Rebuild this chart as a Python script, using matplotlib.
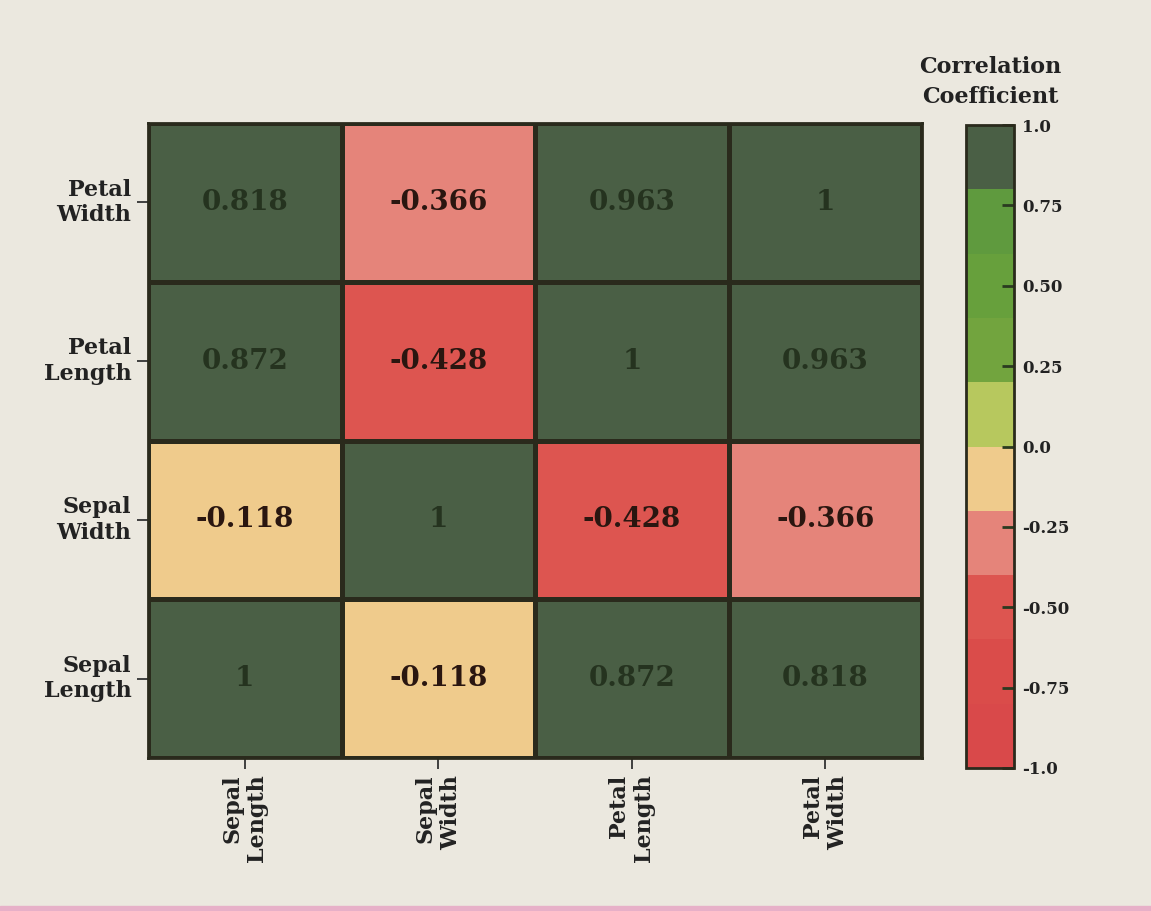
import numpy as np
import matplotlib
matplotlib.use("Agg")
import matplotlib.pyplot as plt
from matplotlib.colors import ListedColormap, BoundaryNorm
from matplotlib.patches import Rectangle

# ---- data ----
x_labels = ["Sepal\nLength", "Sepal\nWidth", "Petal\nLength", "Petal\nWidth"]
y_labels = ["Sepal\nLength", "Sepal\nWidth", "Petal\nLength", "Petal\nWidth"]  # bottom -> top
corr = np.array([
    [1.0,    -0.118, 0.872, 0.818],   # Sepal Length
    [-0.118,  1.0,  -0.428, -0.366],  # Sepal Width
    [0.872, -0.428,  1.0,   0.963],   # Petal Length
    [0.818, -0.366,  0.963, 1.0],     # Petal Width
])
cell_text = [
    ["1", "-0.118", "0.872", "0.818"],
    ["-0.118", "1", "-0.428", "-0.366"],
    ["0.872", "-0.428", "1", "0.963"],
    ["0.818", "-0.366", "0.963", "1"],
]
cbar_ticks = [1.0, 0.75, 0.50, 0.25, 0.0, -0.25, -0.50, -0.75, -1.0]
cbar_ticklabels = ["1.0", "0.75", "0.50", "0.25", "0.0", "-0.25", "-0.50", "-0.75", "-1.0"]
bounds = [-1.0, -0.8, -0.6, -0.4, -0.2, 0.0, 0.2, 0.4, 0.6, 0.8, 1.0]
bin_colors = ["#d9494a", "#da4c4a", "#dd5550", "#e5847a", "#efcb8c",
              "#b7c85e", "#72a43e", "#67a03c", "#5f9a3e", "#4a5f45"]

# ---- style ----
bg = "#ebe8df"
plt.rcParams['font.family'] = ['DejaVu Serif']
plt.rcParams['font.weight'] = 'bold'

fig = plt.figure(figsize=(11.51, 9.11), dpi=100, facecolor=bg)
cmap = ListedColormap(bin_colors)
norm = BoundaryNorm(bounds, cmap.N)

ax = fig.add_axes([148/1151, 1-758/911, 774/1151, 635/911])
mesh = ax.pcolormesh(np.arange(5), np.arange(5), corr, cmap=cmap, norm=norm,
                     edgecolors="#2a2a1c", linewidth=2.4)
ax.set_xlim(0, 4)
ax.set_ylim(0, 4)
for s in ax.spines.values():
    s.set_linewidth(2)
    s.set_color("#2a2a1c")

ax.set_xticks(np.arange(4) + 0.5)
ax.set_yticks(np.arange(4) + 0.5)
ax.set_xticklabels(x_labels, rotation=90, ha='center', va='top',
                   multialignment='right', fontsize=16, fontweight='bold', color="#222")
ax.set_yticklabels(y_labels, ha='right', va='center', multialignment='right',
                   fontsize=16, fontweight='bold', color="#222")
ax.tick_params(length=8, width=1.3, color="#333", pad=4)

for i in range(4):
    for j in range(4):
        v = corr[i, j]
        col = "#25331f" if v > 0.5 else "#2a1610"
        ax.text(j + 0.5, i + 0.5, cell_text[i][j], ha='center', va='center',
                fontsize=20, fontweight='bold', color=col)

# colorbar
cax = fig.add_axes([966/1151, 1-768/911, 48/1151, 643/911])
cb = fig.colorbar(mesh, cax=cax, boundaries=bounds, ticks=cbar_ticks, spacing='proportional')
cb.set_ticklabels(cbar_ticklabels)
cb.minorticks_off()
cb.outline.set_linewidth(2)
cb.outline.set_edgecolor("#2a2a1c")
cax.tick_params(which='major', direction='in', length=9, width=2, color="#2a3a20", pad=6,
                labelsize=12)
cax.tick_params(which='minor', length=0)
for t in cax.get_yticklabels():
    t.set_fontweight('bold')
    t.set_color("#222")

fig.text(990/1151, 1-82/911, "Correlation\nCoefficient", ha='center', va='center',
         fontsize=16, fontweight='bold', color="#222", linespacing=1.5)

# photo edge hint
fig.add_artist(Rectangle((0, 0), 1, 5/911, transform=fig.transFigure,
                         color="#e7b0c8", zorder=0))

fig.savefig("out.png", dpi=100, facecolor=bg)
